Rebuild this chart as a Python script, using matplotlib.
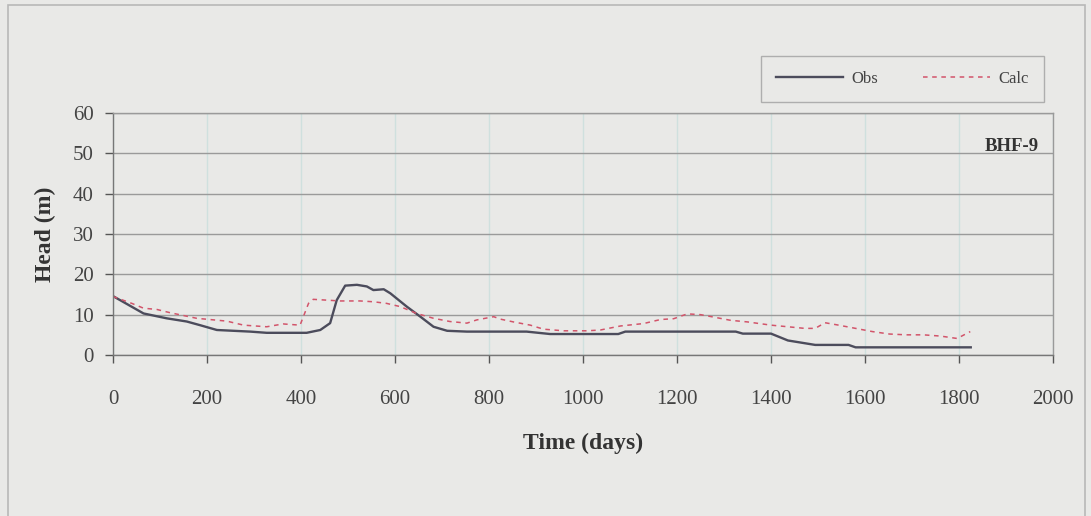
import matplotlib
matplotlib.use("Agg")
import matplotlib.pyplot as plt
from matplotlib.patches import Rectangle

obs_x = [0, 65, 114, 157, 185, 221, 292, 327, 412, 441, 462, 476, 494, 519, 540, 554, 576, 590,
         625, 654, 682, 711, 753, 880, 930, 1075, 1090, 1325, 1340, 1400, 1436, 1494, 1565, 1580, 1825]
obs_y = [14.6, 10.3, 9.1, 8.3, 7.4, 6.2, 5.8, 5.5, 5.5, 6.2, 7.9, 13.6, 17.2, 17.4, 17.0, 16.1, 16.3, 15.3,
         12.0, 9.5, 7.0, 6.0, 5.8, 5.8, 5.2, 5.2, 5.8, 5.8, 5.3, 5.3, 3.6, 2.5, 2.5, 1.9, 1.9]

calc_x = [0, 40, 65, 93, 121, 178, 242, 278, 327, 362, 398, 405, 416, 426, 455, 483, 526, 554, 582,
          611, 646, 682, 717, 753, 774, 810, 824, 852, 888, 916, 959, 1009, 1037, 1080, 1129, 1165,
          1193, 1222, 1250, 1278, 1314, 1350, 1400, 1436, 1472, 1494, 1515, 1544, 1580, 1616, 1652,
          1688, 1724, 1760, 1796, 1824]
calc_y = [14.5, 12.8, 11.6, 11.3, 10.5, 9.1, 8.4, 7.4, 7.0, 7.7, 7.4, 9.5, 12.8, 13.8, 13.6, 13.4,
          13.4, 13.2, 12.8, 12.0, 10.3, 9.1, 8.3, 7.9, 8.7, 9.5, 8.9, 8.2, 7.4, 6.4, 6.0, 6.0, 6.2,
          7.2, 7.8, 8.8, 9.0, 10.2, 10.0, 9.4, 8.6, 8.2, 7.4, 7.0, 6.6, 6.6, 8.0, 7.4, 6.6, 5.8,
          5.2, 5.0, 5.0, 4.7, 4.1, 5.8]

x_ticks = [0, 200, 400, 600, 800, 1000, 1200, 1400, 1600, 1800, 2000]
y_ticks = [0, 10, 20, 30, 40, 50, 60]
well_name = "BHF-9"

bg = "#e9e9e7"
plt.rcParams['font.family'] = ['Liberation Serif', 'DejaVu Serif']

W, H = 1091, 516
fig = plt.figure(figsize=(W / 100, H / 100), dpi=100, facecolor=bg)
ax = fig.add_axes([113 / W, 1 - 355 / H, (1053 - 113) / W, (355 - 113) / H])
ax.set_facecolor(bg)

# outer border
fig.patches.append(Rectangle((8 / W, -0.05), (1085 - 8) / W, 1.05 - 5 / H,
                             transform=fig.transFigure, fill=False,
                             edgecolor="#b8b8b8", linewidth=1.2))

ax.plot(obs_x, obs_y, color="#4c4c5c", linewidth=1.7, label="Obs")
ax.plot(calc_x, calc_y, color="#d2546a", linewidth=1.1, linestyle=(0, (3, 3)), label="Calc")

ax.set_xlim(0, 2000)
ax.set_ylim(0, 60)
ax.set_xticks(x_ticks)
ax.set_yticks(y_ticks)
ax.tick_params(axis='both', labelsize=15, colors="#555555", labelcolor="#444444",
               direction='out', length=6, width=1)
ax.tick_params(axis='x', pad=19)
ax.tick_params(axis='y', pad=8)

ax.grid(axis='y', color="#9a9a9a", linewidth=1.0)
ax.grid(axis='x', color="#cfe0de", linewidth=1.0)
ax.set_axisbelow(True)
for s in ax.spines.values():
    s.set_color("#9a9a9a")
    s.set_linewidth(1.0)
ax.spines['left'].set_color("#777777")
ax.spines['bottom'].set_color("#777777")

ax.set_xlabel("Time (days)", fontsize=17, fontweight='bold', color="#333333", labelpad=17)
ax.set_ylabel("Head (m)", fontsize=17, fontweight='bold', color="#333333", labelpad=12)

ax.text(0.985, 0.86, well_name, transform=ax.transAxes, ha='right', va='center',
        fontsize=13.5, fontweight='bold', color="#333333")

leg = fig.legend(loc='center', bbox_to_anchor=(753 / W, 1 - 102 / H, 299 / W, 46 / H),
                 mode='expand', ncol=2, fontsize=12, frameon=True, fancybox=False,
                 handlelength=4.0, handletextpad=0.5, borderpad=0.9, columnspacing=2.5)
fr = leg.get_frame()
fr.set_facecolor(bg)
fr.set_edgecolor("#a0a0a0")
fr.set_linewidth(1.0)
for t in leg.get_texts():
    t.set_color("#444444")

fig.savefig("out.png", dpi=100, facecolor=bg)
